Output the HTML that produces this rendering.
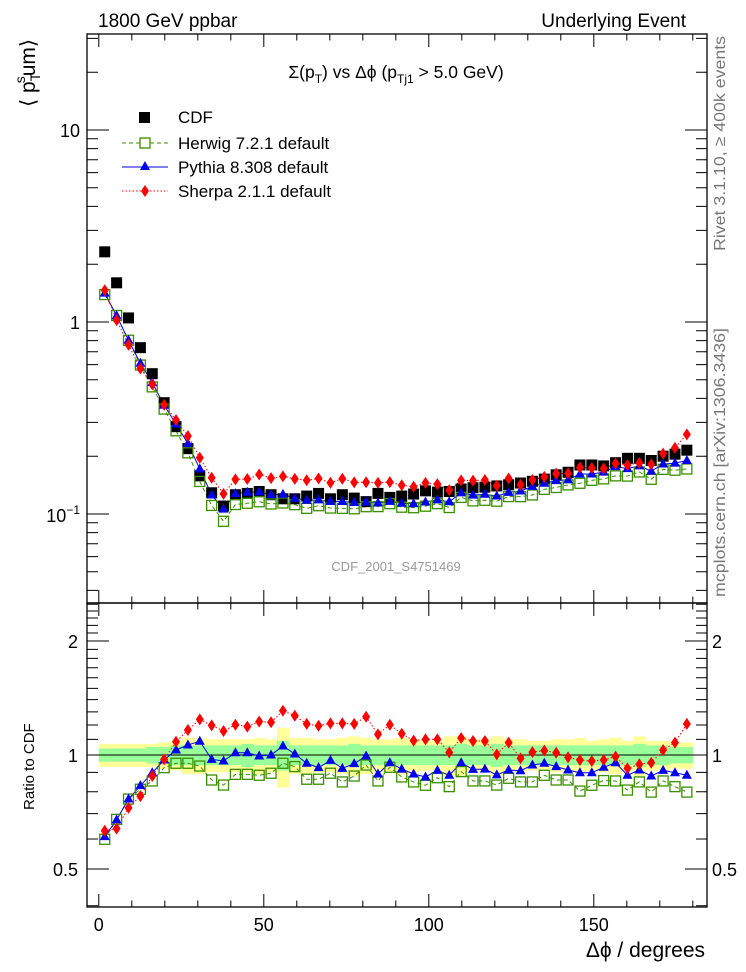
<!DOCTYPE html>
<html><head><meta charset="utf-8">
<style>
html,body{margin:0;padding:0;background:#fff;}
svg{display:block;font-family:"Liberation Sans",sans-serif;}
</style></head>
<body>
<svg id="chart" width="746" height="972" viewBox="0 0 746 972" xmlns="http://www.w3.org/2000/svg">
<defs>
<clipPath id="clipMain"><rect x="87" y="34" width="620" height="569"/></clipPath>
<clipPath id="clipRatio"><rect x="87" y="603" width="620" height="304"/></clipPath>
</defs>
<g id="bands" clip-path="url(#clipRatio)"></g>
<g id="lines"></g>
<g id="marks"></g>
<g id="axes" stroke="#000" fill="none"></g>
<g id="labels" font-size="18" fill="#000"></g>
<text x="98" y="27" font-size="19">1800 GeV ppbar</text>
<text x="686" y="27" font-size="19" text-anchor="end">Underlying Event</text>
<text x="396" y="78" font-size="17.5" text-anchor="middle">Σ(p<tspan dy="5" font-size="12">T</tspan><tspan dy="-5">) vs Δϕ (p</tspan><tspan dy="5" font-size="12">Tj1</tspan><tspan dy="-5"> &gt; 5.0 GeV)</tspan></text>
<text transform="translate(35,107) rotate(-90)" font-size="21">⟨ p<tspan dy="5" font-size="14">T</tspan><tspan dy="-15" dx="-9" font-size="14">s</tspan><tspan dy="10">um</tspan><tspan dy="0">⟩</tspan></text>
<text transform="translate(34,810) rotate(-90)" font-size="15">Ratio to CDF</text>
<text x="705" y="957" font-size="21" text-anchor="end">Δϕ / degrees</text>
<text transform="translate(725,36) rotate(-90)" font-size="16" fill="#777" text-anchor="end" textLength="215" lengthAdjust="spacingAndGlyphs">Rivet 3.1.10, ≥ 400k events</text>
<text transform="translate(725,597) rotate(-90)" font-size="16" fill="#777" textLength="269" lengthAdjust="spacingAndGlyphs">mcplots.cern.ch [arXiv:1306.3436]</text>
<text x="396" y="571" font-size="13" fill="#999" text-anchor="middle">CDF_2001_S4751469</text>
<g id="legend" font-size="17">
<rect x="139" y="112" width="11" height="11" fill="#000"/>
<text x="178" y="123">CDF</text>
<line x1="122" y1="143" x2="168" y2="143" stroke="#3a8f00" stroke-dasharray="4,3"/>
<rect x="140" y="138" width="10" height="10" fill="#fff" stroke="#3a8f00" stroke-width="1.3"/>
<text x="178" y="149">Herwig 7.2.1 default</text>
<line x1="122" y1="167" x2="168" y2="167" stroke="#0000dd"/>
<path d="M145,161 L150,170 L140,170 Z" fill="#0000ee"/>
<text x="178" y="173">Pythia 8.308 default</text>
<line x1="122" y1="191" x2="168" y2="191" stroke="#ff0000" stroke-dasharray="1.5,2"/>
<path d="M145,185 L149,191 L145,197 L141,191 Z" fill="#ff0000"/>
<text x="178" y="197">Sherpa 2.1.1 default</text>
</g>
</svg>
<script>
const binCenters = [1.8,5.4,9,12.6,16.2,19.8,23.4,27,30.6,34.2,37.8,41.4,45,48.6,52.2,55.8,59.4,63,66.6,70.2,73.8,77.4,81,84.6,88.2,91.8,95.4,99,102.6,106.2,109.8,113.4,117,120.6,124.2,127.8,131.4,135,138.6,142.2,145.8,149.4,153,156.6,160.2,163.8,167.4,171,174.6,178.2];
const cdfValues = [2.32,1.60,1.05,0.735,0.538,0.38,0.285,0.219,0.158,0.129,0.110,0.126,0.128,0.131,0.126,0.120,0.120,0.124,0.128,0.120,0.126,0.121,0.116,0.128,0.122,0.124,0.127,0.132,0.130,0.131,0.135,0.137,0.138,0.140,0.142,0.145,0.148,0.152,0.160,0.165,0.180,0.180,0.178,0.185,0.195,0.195,0.190,0.200,0.205,0.215];
const herwigRatio = [0.599,0.676,0.765,0.812,0.854,0.926,0.951,0.951,0.935,0.859,0.833,0.889,0.889,0.884,0.895,0.951,0.932,0.863,0.863,0.895,0.849,0.880,0.941,0.854,0.928,0.875,0.849,0.832,0.871,0.825,0.904,0.854,0.854,0.833,0.868,0.849,0.849,0.884,0.859,0.859,0.803,0.832,0.856,0.854,0.808,0.849,0.798,0.854,0.825,0.798];
const pythiaRatio = [0.609,0.674,0.765,0.830,0.898,0.970,1.031,1.063,1.087,0.974,0.964,1.014,1.014,0.994,1.000,1.056,1.006,0.951,0.926,0.968,0.922,0.949,0.994,0.891,0.954,0.918,0.891,0.875,0.911,0.884,0.954,0.916,0.918,0.886,0.913,0.909,0.941,0.951,0.932,0.913,0.898,0.898,0.928,0.954,0.884,0.913,0.880,0.911,0.898,0.884];
const sherpaRatio = [0.631,0.639,0.725,0.779,0.880,0.974,1.084,1.164,1.242,1.197,1.157,1.202,1.188,1.225,1.220,1.309,1.270,1.208,1.195,1.212,1.212,1.208,1.262,1.134,1.202,1.138,1.091,1.100,1.100,1.016,1.109,1.089,1.089,1.004,1.078,0.980,1.018,1.027,1.014,0.986,0.970,0.964,0.970,0.990,0.922,0.945,0.954,1.031,1.078,1.208];
const errYellow = [0.07,0.07,0.07,0.07,0.07,0.08,0.09,0.11,0.11,0.10,0.10,0.10,0.10,0.11,0.10,0.18,0.11,0.11,0.10,0.10,0.11,0.12,0.11,0.10,0.10,0.11,0.10,0.09,0.09,0.12,0.12,0.10,0.10,0.12,0.10,0.10,0.09,0.09,0.10,0.10,0.11,0.09,0.10,0.11,0.09,0.12,0.09,0.09,0.08,0.08];
const errGreen = [0.04,0.04,0.04,0.04,0.05,0.05,0.06,0.06,0.06,0.06,0.06,0.06,0.07,0.06,0.06,0.09,0.06,0.06,0.06,0.06,0.06,0.07,0.06,0.06,0.06,0.06,0.06,0.06,0.06,0.06,0.07,0.06,0.06,0.07,0.06,0.06,0.06,0.06,0.06,0.06,0.06,0.06,0.06,0.06,0.06,0.07,0.06,0.06,0.05,0.05];
const xTickLabels = ["0","50","100","150"];
const xTickValues = [0,50,100,150];
const binWidth = 3.6;

const NS="http://www.w3.org/2000/svg";
const X=v=>98.8+3.3*v;
const YM=v=>322-192*Math.log10(v);
const YR=v=>755-114*Math.log2(v);
function mk(tag,attrs,parent){const e=document.createElementNS(NS,tag);for(const k in attrs)e.setAttribute(k,attrs[k]);parent.appendChild(e);return e;}
const bands=document.getElementById('bands'),lines=document.getElementById('lines'),marks=document.getElementById('marks'),axes=document.getElementById('axes'),labels=document.getElementById('labels');

binCenters.forEach((c,i)=>{
  const x0=X(c-binWidth/2),w=3.3*binWidth;
  const y=mk('rect',{x:x0,y:YR(1+errYellow[i]),width:w+0.5,height:YR(1-errYellow[i])-YR(1+errYellow[i]),fill:'#ffff99'},bands);
  
  
});
binCenters.forEach((c,i)=>{
  const x0=X(c-binWidth/2),w=3.3*binWidth;
  const g=mk('rect',{x:x0,y:YR(1+errGreen[i]),width:w+0.5,height:YR(1-errGreen[i])-YR(1+errGreen[i]),fill:'#99ff99'},bands);
  
  
});
const refLine=mk('line',{x1:87,x2:707,y1:YR(1),y2:YR(1),stroke:'#000','stroke-width':1},bands);



const gMainL=mk('g',{'clip-path':'url(#clipMain)'},lines);
const gRatL=mk('g',{'clip-path':'url(#clipRatio)'},lines);
const gMainM=mk('g',{'clip-path':'url(#clipMain)'},marks);
const gRatM=mk('g',{'clip-path':'url(#clipRatio)'},marks);

const series=[
 {name:'herwig',ratio:herwigRatio,color:'#3a8f00',dash:'4,3',marker:'osq'},
 {name:'pythia',ratio:pythiaRatio,color:'#0000ee',dash:'',marker:'tri'},
 {name:'sherpa',ratio:sherpaRatio,color:'#ff0000',dash:'1.5,2',marker:'dia'}
];
function marker(type,x,y,col,parent){
  let e;
  if(type==='osq') e=mk('rect',{x:x-5,y:y-5,width:10,height:10,fill:'none',stroke:col,'stroke-width':1.3},parent);
  else if(type==='tri') e=mk('path',{d:`M${x},${y-5.5} L${x+5},${y+3.5} L${x-5},${y+3.5} Z`,fill:col},parent);
  else if(type==='dia') e=mk('path',{d:`M${x},${y-6} L${x+4},${y} L${x},${y+6} L${x-4},${y} Z`,fill:col},parent);
  else e=mk('rect',{x:x-5.5,y:y-5.5,width:11,height:11,fill:col},parent);
  return e;
}
series.forEach(s=>{
  const ptsM=binCenters.map((c,i)=>X(c)+','+YM(cdfValues[i]*s.ratio[i])).join(' ');
  const ptsR=binCenters.map((c,i)=>X(c)+','+YR(s.ratio[i])).join(' ');
  const l1=mk('polyline',{points:ptsM,fill:'none',stroke:s.color,'stroke-width':1,'stroke-dasharray':s.dash},gMainL);
  
  
  const l2=mk('polyline',{points:ptsR,fill:'none',stroke:s.color,'stroke-width':1,'stroke-dasharray':s.dash},gRatL);
  
  
});
binCenters.forEach((c,i)=>{
  const e=marker('sq',X(c),YM(cdfValues[i]),'#000',gMainM);
  
  
});
series.forEach(s=>{
  binCenters.forEach((c,i)=>{
    const e=marker(s.marker,X(c),YM(cdfValues[i]*s.ratio[i]),s.color,gMainM);
    
    
    const r=marker(s.marker,X(c),YR(s.ratio[i]),s.color,gRatM);
    
    
  });
});

const f1=mk('rect',{x:87,y:34,width:620,height:569,'stroke-width':1.3},axes);


const f2=mk('rect',{x:87,y:603,width:620,height:304,'stroke-width':1.3},axes);


let tp='';
for(let v=0;v<=180;v+=10){
  const x=X(v),L=(v%50===0)?13:6.5;
  tp+=`M${x},34v${L}M${x},603v${-L}M${x},603v${L}M${x},907v${-L}`;
}
[0.04,0.05,0.06,0.07,0.08,0.09,0.1,0.2,0.3,0.4,0.5,0.6,0.7,0.8,0.9,1,2,3,4,5,6,7,8,9,10,20,30].forEach(v=>{
  const y=YM(v); if(y<34||y>603)return;
  const major=(v===0.1||v===1||v===10);const L=major?22:11;
  tp+=`M87,${y}h${L}M707,${y}h${-L}`;
});
const rt=[0.4,0.5,0.6,0.7,0.8,0.9,1,1.1,1.2,1.3,1.4,1.5,1.6,1.7,1.8,1.9,2,2.1,2.2,2.3,2.4,2.5,2.6];
rt.forEach(v=>{
  const y=YR(v); if(y<603||y>907)return;
  const major=(v===0.5||v===1||v===2);const L=major?22:11;
  tp+=`M87,${y}h${L}M707,${y}h${-L}`;
});
const tk=mk('path',{d:tp,'stroke-width':1},axes);



xTickLabels.forEach((t,i)=>{
  const e=mk('text',{x:X(xTickValues[i]),y:931,'text-anchor':'middle'},labels);
  e.textContent=t;
  
  
});
const ymLabels=[["10",10],["1",1]];
ymLabels.forEach(([t,v])=>{
  const e=mk('text',{x:80,y:YM(v)+7,'text-anchor':'end'},labels);
  e.textContent=t;
  
  
});
const em=mk('text',{x:80,y:YM(0.1)+8,'text-anchor':'end'},labels);
em.innerHTML='10<tspan dy="-8" font-size="12">−1</tspan>';


[["2",2],["1",1],["0.5",0.5]].forEach(([t,v])=>{
  const a=mk('text',{x:78,y:YR(v)+7,'text-anchor':'end'},labels);
  a.textContent=t;
  
  
  const b=mk('text',{x:712,y:YR(v)+7},labels);
  b.textContent=t;
  
  
});
</script>
</body></html>
